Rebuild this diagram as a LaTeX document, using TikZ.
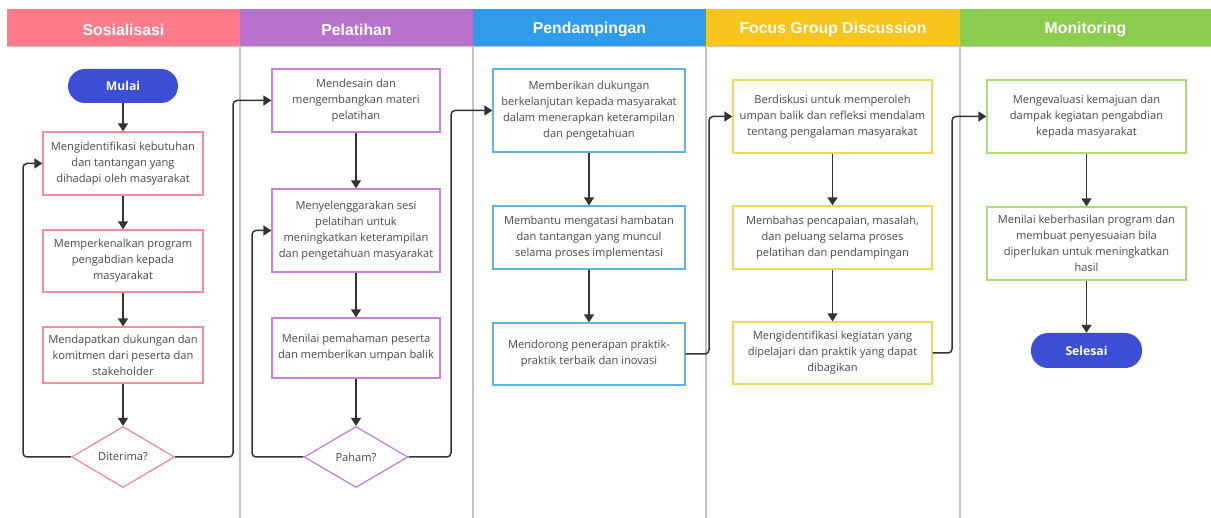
\documentclass[tikz,border=0pt]{standalone}
\usepackage{fontspec}
\setmainfont{Open Sans}
\newfontfamily\headFont{Liberation Sans}
\usetikzlibrary{shapes.geometric,arrows.meta}
\definecolor{sosColor}{HTML}{FF7B8C}
\definecolor{pelColor}{HTML}{B872CC}
\definecolor{penColor}{HTML}{2F9BEB}
\definecolor{fgdColor}{HTML}{F7C51C}
\definecolor{monColor}{HTML}{8BCB4D}
\definecolor{sosLine}{HTML}{F08E9B}
\definecolor{pelLine}{HTML}{C682DA}
\definecolor{penLine}{HTML}{5CB2EA}
\definecolor{fgdLine}{HTML}{F4D658}
\definecolor{monLine}{HTML}{A9DA7C}
\definecolor{pillColor}{HTML}{3A4FD6}
\definecolor{textGray}{HTML}{4A4A4A}
\definecolor{arrowGray}{HTML}{333333}
\definecolor{laneGray}{HTML}{C4C4C4}
\tikzset{
  lanehead/.style={fill=#1, draw=none},
  lanetitle/.style={text=white, font=\headFont\bfseries\fontsize{15.8}{18}\selectfont},
  stepbox/.style={rectangle, draw=#1, line width=1.3pt, fill=white, align=center,
    text=textGray, font=\fontsize{11.1}{16}\selectfont, inner sep=2pt},
  decision/.style={diamond, draw=#1, line width=1.3pt, fill=white, inner sep=0pt,
    text=textGray, font=\fontsize{11.1}{16}\selectfont, minimum width=103pt, minimum height=61pt},
  terminal/.style={rectangle, rounded corners=17pt, fill=pillColor, text=white,
    font=\bfseries\fontsize{12.2}{14}\selectfont},
  flow/.style={draw=arrowGray, line width=1.5pt, rounded corners=4pt,
    -{Triangle[length=8pt,width=10pt]}}
}
\begin{document}
\begin{tikzpicture}[x=1pt,y=-1pt]
\useasboundingbox (0,0) rectangle (1211,518);
% Lane headers
\fill[lanehead=sosColor] (7,9) rectangle (240,46);
\fill[lanehead=pelColor] (240,9) rectangle (473,46);
\fill[lanehead=penColor] (473,9) rectangle (706,46);
\fill[lanehead=fgdColor] (706,9) rectangle (960,46);
\fill[lanehead=monColor] (960,9) rectangle (1211,46);
\draw[laneGray, line width=0.8pt] (7,46) -- (1211,46);
\node[lanetitle] (hSos) at (123.5,29.5) {Sosialisasi};
\node[lanetitle] (hPel) at (356.5,29.5) {Pelatihan};
\node[lanetitle] (hPen) at (589.5,29.5) {Pendampingan};
\node[lanetitle] (hFgd) at (833,29.5) {Focus Group Discussion};
\node[lanetitle] (hMon) at (1085.5,29.5) {Monitoring};
% Lane dividers
\foreach \xdiv in {240,473,706,960}
  \draw[laneGray, line width=1.1pt] (\xdiv,46) -- (\xdiv,518);
% Sosialisasi
\node[terminal, minimum width=110pt, minimum height=34pt] (mulai) at (123,86) {Mulai};
\node[stepbox=sosLine, minimum width=160pt, minimum height=63pt] (sos1) at (123,163.5)
  {Mengidentifikasi kebutuhan\\dan tantangan yang\\dihadapi oleh masyarakat};
\node[stepbox=sosLine, minimum width=160pt, minimum height=62pt] (sos2) at (123,261)
  {Memperkenalkan program\\pengabdian kepada\\masyarakat};
\node[stepbox=sosLine, minimum width=160pt, minimum height=56pt] (sos3) at (123,355)
  {Mendapatkan dukungan dan\\komitmen dari peserta dan\\stakeholder};
\node[decision=sosLine] (diterima) at (123,457) {Diterima?};
% Pelatihan
\node[stepbox=pelLine, minimum width=168pt, minimum height=63pt] (pel1) at (356,100.5)
  {Mendesain dan\\mengembangkan materi\\pelatihan};
\node[stepbox=pelLine, minimum width=168pt, minimum height=83pt] (pel2) at (356,230.5)
  {Menyelenggarakan sesi\\pelatihan untuk\\meningkatkan keterampilan\\dan pengetahuan masyarakat};
\node[stepbox=pelLine, minimum width=168pt, minimum height=60pt] (pel3) at (356,348)
  {Menilai pemahaman peserta\\dan memberikan umpan balik};
\node[decision=pelLine, minimum width=104pt] (paham) at (356,457) {Paham?};
% Pendampingan
\node[stepbox=penLine, minimum width=192pt, minimum height=83pt] (pen1) at (589,110.5)
  {Memberikan dukungan\\berkelanjutan kepada masyarakat\\dalam menerapkan keterampilan\\dan pengetahuan};
\node[stepbox=penLine, minimum width=192pt, minimum height=63pt] (pen2) at (589,237.5)
  {Membantu mengatasi hambatan\\dan tantangan yang muncul\\selama proses implementasi};
\node[stepbox=penLine, minimum width=192pt, minimum height=62pt] (pen3) at (589,354)
  {Mendorong penerapan praktik-\\praktik terbaik dan inovasi};
% Focus Group Discussion
\node[stepbox=fgdLine, minimum width=199pt, minimum height=73pt] (fgd1) at (832.5,116.5)
  {Berdiskusi untuk memperoleh\\umpan balik dan refleksi mendalam\\tentang pengalaman masyarakat};
\node[stepbox=fgdLine, minimum width=199pt, minimum height=63pt] (fgd2) at (832.5,237.5)
  {Membahas pencapaian, masalah,\\dan peluang selama proses\\pelatihan dan pendampingan};
\node[stepbox=fgdLine, minimum width=199pt, minimum height=62pt] (fgd3) at (832.5,353)
  {Mengidentifikasi kegiatan yang\\dipelajari dan praktik yang dapat\\dibagikan};
% Monitoring
\node[stepbox=monLine, minimum width=199pt, minimum height=73pt] (mon1) at (1086.5,116.5)
  {Mengevaluasi kemajuan dan\\dampak kegiatan pengabdian\\kepada masyarakat};
\node[stepbox=monLine, minimum width=199pt, minimum height=73pt] (mon2) at (1086.5,243.5)
  {Menilai keberhasilan program dan\\membuat penyesuaian bila\\diperlukan untuk meningkatkan\\hasil};
\node[terminal, minimum width=111pt, minimum height=35pt] (selesai) at (1086.5,350.5) {Selesai};
% Turning points
\coordinate (backSos) at (23,0);
\coordinate (jumpSos) at (233,0);
\coordinate (backPel) at (252,0);
\coordinate (jumpPel) at (451,0);
\coordinate (jumpPen) at (709,0);
\coordinate (jumpFgd) at (952,0);
% Arrows
\draw[flow] (mulai) -- (sos1);
\draw[flow] (sos1) -- (sos2);
\draw[flow] (sos2) -- (sos3);
\draw[flow] (sos3) -- (diterima);
\draw[flow] (diterima.west) -| (backSos |- sos1.west) -- (sos1.west);
\draw[flow] (diterima.east) -| (jumpSos |- pel1.west) -- (pel1.west);
\draw[flow] (pel1) -- (pel2);
\draw[flow] (pel2) -- (pel3);
\draw[flow] (pel3) -- (paham);
\draw[flow] (paham.west) -| (backPel |- pel2.west) -- (pel2.west);
\draw[flow] (paham.east) -| (jumpPel |- pen1.west) -- (pen1.west);
\draw[flow] (pen1) -- (pen2);
\draw[flow] (pen2) -- (pen3);
\draw[flow] (pen3.east) -| (jumpPen |- fgd1.west) -- (fgd1.west);
\draw[flow] (fgd1) -- (fgd2);
\draw[flow] (fgd2) -- (fgd3);
\draw[flow] (fgd3.east) -| (jumpFgd |- mon1.west) -- (mon1.west);
\draw[flow] (mon1) -- (mon2);
\draw[flow] (mon2) -- (selesai);
\end{tikzpicture}
\end{document}
